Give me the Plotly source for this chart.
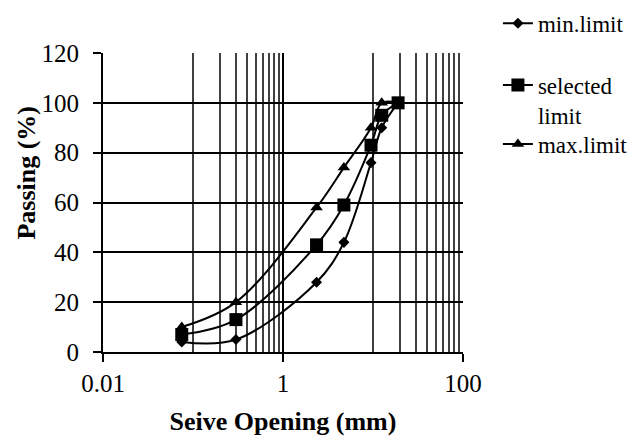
import plotly.graph_objects as go

sieve_mm = [0.075, 0.3, 2.36, 4.75, 9.5, 12.5, 19]
min_limit = [4, 5, 28, 44, 76, 90, 100]
selected_limit = [7, 13, 43, 59, 83, 95, 100]
max_limit = [10, 20, 58, 74, 90, 100, 100]

series_names = ["min.limit", "selected<br>limit", "max.limit"]
x_ticks = [0.01, 1, 100]
x_tick_text = ["0.01", "1", "100"]
y_ticks = [0, 20, 40, 60, 80, 100, 120]
minor_grid = [0.1, 0.2, 0.3, 0.4, 0.5, 0.6, 0.7, 0.8, 0.9,
              10, 20, 30, 40, 50, 60, 70, 80, 90]

FONT = "Liberation Serif"

fig = go.Figure()
series = [
    (min_limit, series_names[0], "diamond", 8.5, "legend"),
    (selected_limit, series_names[1], "square", 13, "legend2"),
    (max_limit, series_names[2], "triangle-up", 11, "legend3"),
]
for vals, name, sym, sz, lg in series:
    fig.add_trace(go.Scatter(
        x=sieve_mm, y=vals, name=name, mode="lines+markers",
        line=dict(color="black", width=2, shape="spline", smoothing=1),
        marker=dict(symbol=sym, size=sz, color="black"),
        legend=lg, showlegend=True,
    ))

legend_common = dict(
    font=dict(family=FONT, size=23, color="black"),
    bgcolor="rgba(0,0,0,0)", xanchor="left", yanchor="top",
    valign="top", itemclick=False,
)
# page has an 8px body margin: figure is sized/margined to compensate
fig.update_layout(
    width=636, height=428, showlegend=True,
    margin=dict(l=95, r=181, t=45, b=84, autoexpand=False),
    paper_bgcolor="white", plot_bgcolor="white",
    font=dict(family=FONT, size=25, color="black"),
    legend=dict(x=1.097, y=1.171, **legend_common),
    legend2=dict(x=1.097, y=0.965, **legend_common),
    legend3=dict(x=1.097, y=0.767, **legend_common),
    xaxis=dict(
        type="log", range=[-2, 2], automargin=False,
        tickmode="array", tickvals=x_ticks, ticktext=x_tick_text,
        ticks="outside", ticklen=8, tickwidth=2, tickcolor="black",
        showgrid=True, gridcolor="black", gridwidth=2,
        showline=True, linecolor="black", linewidth=2,
        minor=dict(tickmode="array", tickvals=minor_grid, showgrid=True,
                   gridcolor="#404040", gridwidth=2, ticks=""),
        title=dict(text="<b>Seive Opening (mm)</b>", standoff=16,
                   font=dict(family=FONT, size=26)),
        tickfont=dict(family=FONT, size=25),
    ),
    yaxis=dict(
        range=[0, 120], tickvals=y_ticks, automargin=False,
        ticks="outside", ticklen=8, tickwidth=2, tickcolor="black",
        showgrid=True, gridcolor="black", gridwidth=2,
        showline=True, linecolor="black", linewidth=2,
        zeroline=False, ticklabelstandoff=9,
        tickfont=dict(family=FONT, size=25),
    ),
    annotations=[dict(
        text="<b>Passing (%)</b>", textangle=-90, showarrow=False,
        xref="paper", yref="paper", x=0, y=0.600, xshift=-76,
        xanchor="center", yanchor="middle",
        font=dict(family=FONT, size=26, color="black"),
    )],
)
fig.write_html("out.html")
